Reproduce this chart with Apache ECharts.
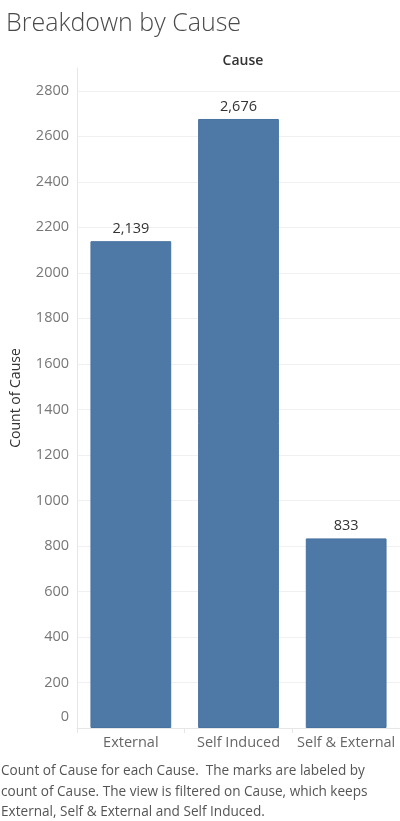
<!DOCTYPE html>
<html>
<head>
<meta charset="utf-8">
<script src="https://cdn.jsdelivr.net/npm/echarts@6/dist/echarts.min.js"></script>
<style>
  html, body { margin: 0; padding: 0; background: #fff; }
  #causeChart { width: 400px; height: 821px; }
</style>
</head>
<body>
<div id="causeChart"></div>
<script>
var causeList = ['External', 'Self Induced', 'Self & External']
var countList = [2139, 2676, 833]
var captionLines = [
  'Count of Cause for each Cause.  The marks are labeled by',
  'count of Cause. The view is filtered on Cause, which keeps',
  'External, Self & External and Self Induced.'
]

var fontName = '"Open Sans", "DejaVu Sans", sans-serif'
var myChart = echarts.init(document.getElementById('causeChart'))

var option = {
  animation: false,
  backgroundColor: '#fff',
  title: [
    {
      text: 'Breakdown by Cause',
      left: 1,
      top: 6,
      textStyle: {
        fontFamily: fontName,
        fontSize: 25,
        fontWeight: 300,
        color: '#4a4a4a'
      }
    },
    {
      // header over the panes
      text: 'Cause',
      left: 238,
      top: 49,
      textAlign: 'center',
      textStyle: {
        fontFamily: fontName,
        fontSize: 14,
        fontWeight: 600,
        color: '#333'
      }
    },
    {
      text: captionLines.join('\n'),
      left: 1,
      top: 761,
      padding: 0,
      textStyle: {
        fontFamily: fontName,
        fontSize: 13.6,
        fontWeight: 'normal',
        lineHeight: 20.5,
        color: '#555'
      }
    }
  ],
  grid: {
    left: 77,
    right: 0,
    top: 68,
    bottom: 93,
    containLabel: false
  },
  xAxis: {
    type: 'category',
    data: causeList,
    axisLine: { show: true, lineStyle: { color: '#e6e6e6', width: 1 } },
    axisTick: { show: true, length: 5, lineStyle: { color: '#e6e6e6' } },
    axisLabel: {
      interval: 0,
      margin: 7,
      fontFamily: fontName,
      fontSize: 14.5,
      color: '#666'
    }
  },
  yAxis: {
    type: 'value',
    min: 0,
    max: 2900,
    interval: 200,
    name: 'Count of Cause',
    nameLocation: 'middle',
    nameRotate: 90,
    nameGap: 54,
    nameTextStyle: {
      fontFamily: fontName,
      fontSize: 14,
      fontWeight: 500,
      color: '#333'
    },
    axisLine: { show: true, lineStyle: { color: '#e6e6e6', width: 1 } },
    axisTick: { show: false },
    splitLine: {
      show: true,
      showMaxLine: false,
      lineStyle: { color: '#f0f0f0', width: 1 }
    },
    axisLabel: {
      showMaxLabel: false,
      margin: 8,
      fontFamily: fontName,
      fontSize: 14.5,
      color: '#777',
      formatter: function(v) {
        if (v === 0) return '{z|0}'
        return v
      },
      rich: {
        z: {
          fontFamily: fontName,
          fontSize: 14.5,
          color: '#777',
          padding: [0, 0, 22, 0]
        }
      }
    }
  },
  series: [
    {
      type: 'bar',
      data: countList,
      barCategoryGap: '25%',
      itemStyle: {
        color: '#4e79a7',
        borderColor: '#4672a0',
        borderWidth: 1
      },
      label: {
        show: true,
        position: 'top',
        distance: 5,
        fontFamily: fontName,
        fontSize: 14.5,
        color: '#333',
        formatter: function(p) {
          return p.value.toLocaleString('en-US')
        }
      }
    }
  ]
}
myChart.setOption(option, true)
window.onresize = function() {
  myChart.resize()
}
</script>
</body>
</html>
